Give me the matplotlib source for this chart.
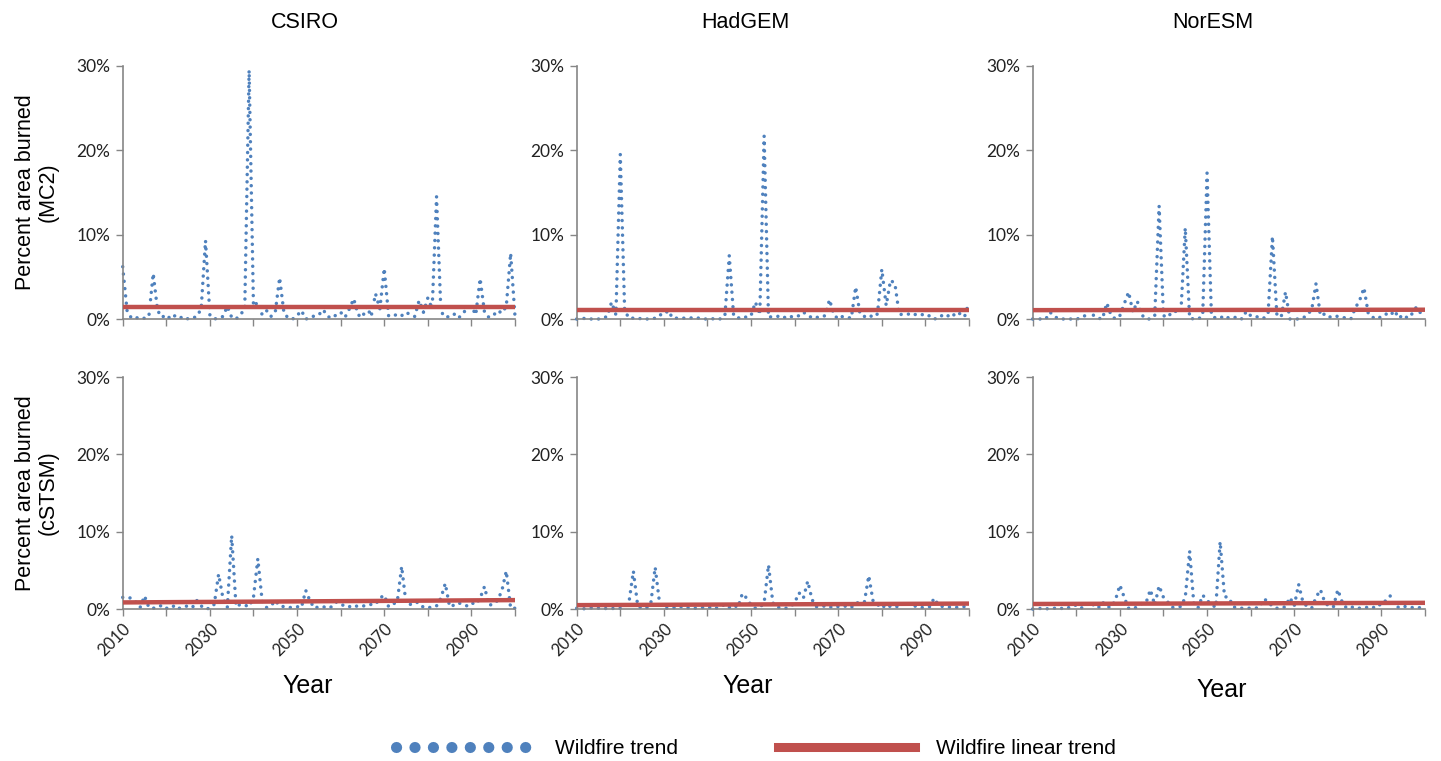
import numpy as np
import matplotlib
matplotlib.use('Agg')
import matplotlib.pyplot as plt
from matplotlib.lines import Line2D

# Years on the x axis
years = np.arange(2010, 2101)

# Percent area burned, MC2 model (top row)
csiro_mc2 = [6.2, 1.0, 0.1, 0.2, 0.0, 0.1, 0.3, 5.4, 1.0, 0.2,
             0.5, 0.0, 0.4, 0.1, 0.3, 0.0, 0.1, 0.3, 1.2, 9.3,
             0.5, 0.0, 0.1, 0.3, 1.5, 0.2, 0.0, 0.5, 1.2, 29.5,
             1.5, 2.0, 0.5, 1.0, 0.3, 0.8, 4.9, 0.7, 0.1, 0.0,
             0.4, 1.0, 0.0, 0.1, 0.4, 0.5, 1.1, 0.3, 0.1, 0.5,
             0.8, 0.2, 1.2, 2.4, 0.5, 0.2, 1.5, 0.3, 3.0, 1.2,
             6.0, 0.4, 0.3, 0.6, 0.4, 0.8, 0.5, 0.3, 2.2, 0.8,
             2.5, 1.2, 14.5, 0.9, 0.2, 0.3, 0.6, 0.1, 0.6, 1.3,
             1.5, 0.5, 4.8, 0.8, 0.2, 0.4, 1.0, 0.7, 1.5, 7.8,
             0.3]
hadgem_mc2 = [0.0, 0.0, 0.1, 0.0, 0.0, 0.0, 0.1, 0.3, 2.0, 0.5,
              19.5, 1.0, 0.1, 0.1, 0.0, 0.1, 0.0, 0.0, 0.1, 0.5,
              0.5, 1.0, 0.1, 0.1, 0.1, 0.1, 0.1, 0.2, 0.1, 0.0,
              0.0, 0.0, 0.1, 0.0, 0.4, 7.5, 0.4, 0.1, 0.3, 0.2,
              0.4, 2.0, 0.5, 21.7, 0.2, 0.3, 0.3, 0.4, 0.1, 0.3,
              0.2, 0.4, 0.8, 0.5, 0.1, 0.2, 0.2, 0.4, 2.3, 0.5,
              0.0, 0.3, 0.2, 0.1, 3.8, 0.6, 0.3, 0.5, 0.2, 0.6,
              5.9, 1.6, 4.6, 4.2, 0.5, 0.6, 0.6, 0.4, 0.6, 0.6,
              0.3, 0.4, 0.0, 0.1, 0.5, 0.3, 0.7, 0.3, 0.7, 0.3,
              2.0]
noresm_mc2 = [0.0, 0.0, 0.0, 0.0, 0.8, 0.3, 0.0, 0.0, 0.0, 0.0,
              0.0, 0.1, 0.4, 1.1, 0.4, 0.1, 0.0, 1.9, 0.4, 0.0,
              0.4, 1.8, 3.2, 0.8, 2.1, 0.5, 0.0, 0.0, 0.4, 13.4,
              0.4, 0.2, 0.9, 0.9, 0.8, 10.8, 0.1, 0.0, 0.0, 0.4,
              17.3, 0.4, 0.1, 0.1, 0.4, 0.1, 0.1, 0.3, 0.0, 0.9,
              0.4, 0.4, 0.1, 0.1, 0.6, 9.8, 0.6, 0.2, 3.2, 0.0,
              0.0, 0.0, 0.1, 0.5, 1.1, 4.2, 0.4, 0.6, 0.2, 0.4,
              0.3, 0.2, 0.1, 0.0, 1.3, 2.2, 3.7, 0.6, 0.2, 0.0,
              0.3, 0.6, 0.4, 1.0, 0.1, 0.5, 0.1, 0.6, 1.4, 0.7,
              0.4]

# Percent area burned, cSTSM model (bottom row)
csiro_cstsm = [1.5, 1.5, 1.4, 0.9, 0.2, 1.7, 0.2, 0.1, 0.2, 0.5,
               0.1, 0.1, 0.5, 0.1, 0.3, 0.4, 0.2, 1.1, 0.4, 0.0,
               0.1, 0.6, 4.5, 1.4, 0.2, 9.5, 0.3, 0.6, 0.5, 0.3,
               1.5, 6.5, 1.0, 0.2, 0.4, 1.1, 0.4, 0.3, 0.2, 0.2,
               0.3, 0.2, 2.4, 1.0, 0.1, 0.3, 0.3, 0.1, 0.3, 0.9,
               0.7, 0.3, 0.3, 0.5, 0.3, 0.4, 0.4, 0.6, 0.6, 1.4,
               1.8, 0.3, 0.6, 1.0, 5.5, 0.7, 0.6, 0.9, 0.8, 0.2,
               0.2, 0.2, 0.4, 1.4, 3.3, 0.3, 0.5, 0.8, 0.6, 0.4,
               0.8, 0.6, 1.4, 2.9, 0.5, 0.6, 1.1, 2.4, 4.9, 0.1,
               0.1]
hadgem_cstsm = [0.1, 0.1, 0.0, 0.1, 0.2, 0.1, 0.0, 0.1, 0.1, 0.0,
                0.1, 0.2, 0.9, 4.9, 0.4, 0.1, 0.1, 0.7, 5.4, 0.8,
                0.1, 0.1, 0.2, 0.1, 0.3, 0.1, 0.2, 0.1, 0.1, 0.2,
                0.1, 0.3, 0.1, 0.3, 0.6, 0.2, 0.5, 0.2, 2.0, 1.4,
                0.5, 0.1, 0.2, 0.8, 5.7, 0.8, 0.2, 0.2, 0.1, 0.3,
                0.8, 2.1, 1.4, 3.6, 1.2, 0.3, 0.3, 0.4, 0.2, 0.4,
                0.3, 0.3, 0.4, 0.2, 0.8, 0.8, 0.9, 4.3, 1.0, 0.6,
                0.1, 0.6, 0.3, 0.4, 0.2, 0.8, 0.8, 0.3, 0.4, 0.2,
                0.2, 0.3, 1.4, 0.5, 0.3, 0.3, 0.2, 0.2, 0.3, 0.3,
                0.5]
noresm_cstsm = [0.0, 0.0, 0.1, 0.0, 0.1, 0.1, 0.2, 0.0, 0.1, 0.4,
                0.5, 0.1, 0.3, 0.9, 0.5, 0.1, 0.9, 0.3, 0.2, 1.2,
                3.1, 1.5, 0.1, 0.0, 0.3, 0.7, 0.8, 2.5, 0.5, 3.0,
                1.5, 0.9, 0.2, 0.3, 0.3, 1.5, 7.5, 0.4, 0.2, 1.8,
                1.1, 0.6, 0.2, 8.7, 1.6, 1.5, 0.3, 0.1, 0.1, 0.1,
                0.1, 0.1, 0.2, 1.3, 1.0, 0.3, 0.1, 0.1, 0.3, 1.5,
                0.4, 3.2, 0.9, 0.3, 0.1, 1.5, 2.5, 0.9, 0.3, 0.3,
                2.5, 0.9, 0.1, 0.2, 0.3, 0.1, 0.2, 0.2, 0.1, 0.6,
                0.5, 1.1, 1.7, 0.4, 0.2, 0.4, 0.2, 0.2, 0.1, 0.2,
                0.5]

# Linear trend end points (2010, 2100), same panel order as below
trend_start = [1.42, 1.1, 1.05, 0.85, 0.5, 0.65]
trend_end = [1.42, 1.1, 1.1, 1.15, 0.7, 0.8]

models = ['CSIRO', 'HadGEM', 'NorESM']
row_names = ['MC2', 'cSTSM']
series = [csiro_mc2, hadgem_mc2, noresm_mc2,
          csiro_cstsm, hadgem_cstsm, noresm_cstsm]

BLUE = '#4F81BD'
RED = '#C0504D'
GRAY = '#868686'
W, H = 1441, 761

fig = plt.figure(figsize=(W / 100, H / 100), dpi=100)

# panel boxes in pixels: (left, top, bottom)
col_left = [122.7, 576.7, 1032.7]
row_box = [(66, 319), (377, 609)]
panel_w = 392.3

for i, vals in enumerate(series):
    r, c = divmod(i, 3)
    top, bot = row_box[r]
    ax = fig.add_axes([col_left[c] / W, 1 - bot / H, panel_w / W, (bot - top) / H])
    ax.plot(years, vals, color=BLUE, lw=2.5, linestyle=(0, (0.01, 2.1)),
            dash_capstyle='round', solid_capstyle='round', clip_on=False, zorder=2)
    ax.plot([years[0], years[-1]], [trend_start[i], trend_end[i]],
            color=RED, lw=3.2, solid_capstyle='butt', zorder=3)
    ax.set_xlim(2010, 2100)
    ax.set_ylim(0, 30)
    ax.set_yticks([0, 10, 20, 30])
    ax.set_yticklabels(['0%', '10%', '20%', '30%'], family='Lato', fontsize=12.5)
    ax.set_xticks(np.arange(2010, 2101, 10))
    if r == 1:
        ax.set_xticklabels(['2010', '', '2030', '', '2050', '', '2070', '', '2090', ''],
                           rotation=45, ha='right', rotation_mode='anchor',
                           family='Lato', fontsize=12)
    else:
        ax.set_xticklabels([])
    for s in ['top', 'right']:
        ax.spines[s].set_visible(False)
    for s in ['left', 'bottom']:
        ax.spines[s].set_color(GRAY)
        ax.spines[s].set_linewidth(1.2)
    ax.tick_params(axis='both', direction='out', length=5, width=1, color=GRAY,
                   labelcolor='#222222')
    ax.tick_params(axis='y', pad=4)
    ax.tick_params(axis='x', pad=3)
    ax.set_facecolor('none')

# column titles
title_x = [305, 745, 1213]
for name, tx in zip(models, title_x):
    fig.text(tx / W, 1 - 22 / H, name, ha='center', va='center',
             family='Liberation Sans', fontsize=15.5)

# row labels
for name, (top, bot) in zip(row_names, row_box):
    fig.text(37 / W, 1 - (top + bot) / 2 / H, 'Percent area burned\n(' + name + ')',
             rotation=90, ha='center', va='center', multialignment='center',
             family='Liberation Sans', fontsize=15.5, linespacing=1.1)

# x axis labels
year_pos = [(308, 686), (748, 686), (1222, 690)]
for xx, yy in year_pos:
    fig.text(xx / W, 1 - yy / H, 'Year', ha='center', va='center',
             family='Liberation Sans', fontsize=18)

# legend
handles = [Line2D([], [], color=BLUE, lw=8, linestyle=(0, (0.01, 1.65)),
                  dash_capstyle='round'),
           Line2D([], [], color=RED, lw=6.5)]
fig.legend(handles, ['Wildfire trend', 'Wildfire linear trend'],
           loc='center', bbox_to_anchor=(756 / W, 1 - 749 / H), ncol=2,
           frameon=False, handlelength=6.6, handletextpad=1.0, columnspacing=4.8,
           prop={'family': 'Liberation Sans', 'size': 15})

fig.savefig('out.png', dpi=100)
